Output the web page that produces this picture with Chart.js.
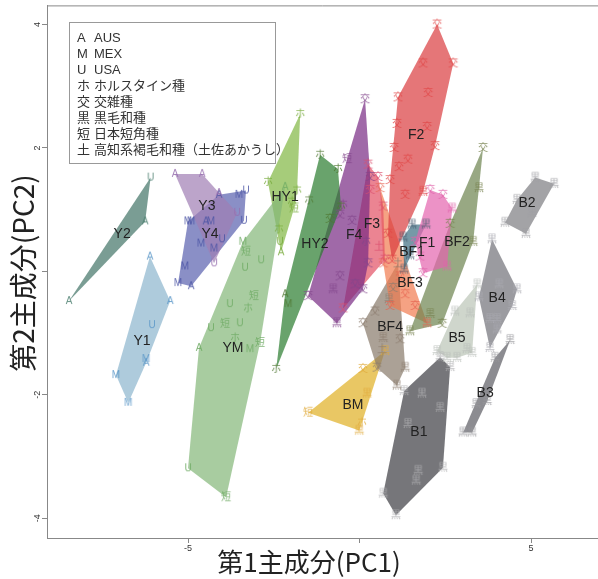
<!DOCTYPE html>
<html><head><meta charset="utf-8">
<script src="https://cdn.jsdelivr.net/npm/chart.js@4/dist/chart.umd.min.js"></script>
<style>html,body{margin:0;padding:0;background:#fff;overflow:hidden}</style>
</head><body>
<canvas id="c" width="598" height="579"></canvas>
<script>
// ---- axis ticks ----
const xTicks = [-5, 0, 5];
const yTicks = [-4, -2, 0, 2, 4];

// ---- groups: [PC1, PC2, symbol] ----
const Y2 = [[-8.47,-0.48,'A'],[-6.09,1.52,'U'],[-6.25,0.81,'A']];
const Y1 = [[-6.11,0.24,'A'],[-5.52,-0.48,'A'],[-6.05,-0.87,'U'],[-6.22,-1.42,'M'],[-6.22,-1.48,'A'],[-7.10,-1.68,'M'],[-6.74,-2.13,'M']];
const Y3 = [[-5.38,1.58,'A'],[-4.59,1.58,'A'],[-4.10,1.27,'A'],[-3.57,0.95,'U'],[-4.24,0.13,'U']];
const Y4 = [[-5.00,0.81,'M'],[-4.91,0.81,'M'],[-4.48,0.81,'A'],[-4.33,0.81,'M'],[-4.62,0.45,'M'],[-4.24,0.37,'M'],[-4.01,0.52,'U'],[-5.09,0.08,'M'],[-5.29,-0.19,'M'],[-4.91,-0.24,'A'],[-3.51,1.24,'M'],[-3.31,1.31,'U'],[-3.37,0.82,'U'],[-4.10,1.24,'A']];
const YM = [[-2.17,1.37,'A'],[-3.40,0.48,'M'],[-3.31,0.32,'短'],[-2.87,0.18,'U'],[-3.34,0.06,'U'],[-3.08,-0.40,'短'],[-3.25,-0.60,'ホ'],[-3.78,-0.53,'U'],[-4.33,-0.92,'U'],[-3.92,-0.85,'短'],[-3.49,-0.84,'U'],[-3.63,-1.08,'ホ'],[-2.90,-1.16,'短'],[-3.19,-1.26,'M'],[-4.68,-1.24,'A'],[-5.00,-3.19,'U'],[-3.89,-3.66,'短']];
const HY1 = [[-1.73,2.55,'ホ'],[-2.67,1.45,'ホ'],[-1.82,1.31,'ホ'],[-1.97,1.13,'ホ'],[-1.91,1.02,'短'],[-2.35,0.68,'ホ'],[-2.32,0.48,'U'],[-2.29,0.31,'A']];
const HY2 = [[-1.15,1.89,'ホ'],[-0.63,1.66,'ホ'],[-1.47,1.15,'ホ'],[-0.54,1.05,'ホ'],[-0.86,0.85,'交'],[-2.17,-0.37,'A'],[-2.08,-0.53,'M'],[-2.43,-1.58,'ホ']];
const F4 = [[0.16,2.79,'交'],[-0.36,1.82,'短'],[-0.48,1.08,'ホ'],[-0.57,0.92,'交'],[-0.22,0.82,'交'],[0.19,0.48,'ホ'],[0.31,1.53,'交'],[0.25,0.13,'交'],[-0.57,-0.08,'交'],[-0.77,-0.29,'黒'],[-0.13,-0.21,'交'],[0.10,-0.29,'交'],[-0.66,-0.84,'黒'],[-1.50,-0.40,'交']];
const F3 = [[0.25,1.73,'交'],[0.54,1.53,'交'],[0.31,1.32,'交'],[0.69,1.05,'交'],[0.57,0.40,'土'],[0.74,0.19,'交'],[-0.48,-0.60,'交']];
const F2 = [[2.26,4.00,'交'],[1.85,3.37,'交'],[2.73,3.37,'交'],[2.00,2.89,'交'],[1.12,2.82,'交'],[1.09,2.39,'交'],[1.97,2.34,'交'],[2.20,2.03,'交'],[1.01,2.00,'交'],[1.41,1.81,'交'],[1.15,1.69,'交'],[0.89,1.48,'交'],[1.33,1.24,'交'],[1.85,1.29,'黒'],[0.83,0.61,'交'],[0.95,0.19,'交']];
const F1 = [[2.06,1.32,'交'],[2.43,1.24,'交'],[2.70,1.02,'黒'],[2.55,0.08,'黒'],[1.85,-0.03,'交'],[1.62,0.48,'交'],[1.76,0.24,'交']];
const BF1 = [[1.53,0.76,'黒'],[1.94,0.76,'黒'],[1.27,0.55,'黒'],[1.47,0.26,'黒'],[1.30,0.03,'黒']];
const BF2 = [[3.60,2.00,'交'],[3.48,1.35,'黒'],[3.31,0.48,'黒'],[2.64,0.77,'交'],[2.41,-0.85,'交'],[2.06,-0.69,'黒'],[1.47,-0.97,'黒']];
const BF3 = [[0.60,1.35,'交'],[0.69,0.13,'交'],[0.89,-0.56,'交'],[1.18,-0.08,'交'],[1.33,-0.37,'交'],[1.62,-0.56,'交'],[1.97,-0.84,'黒']];
const BF4 = [[0.10,-0.84,'交'],[0.45,-0.65,'交'],[0.86,-0.45,'黒'],[0.69,-1.08,'黒'],[1.18,-1.10,'交'],[0.66,-1.26,'土'],[0.51,-1.56,'交'],[1.33,-1.56,'黒'],[1.09,-1.85,'黒'],[1.12,0.13,'土'],[0.98,-0.27,'交']];
const B5 = [[3.43,-0.21,'黒'],[2.78,-0.65,'黒'],[3.22,-0.68,'黒'],[2.26,-1.29,'黒'],[3.13,-1.26,'黒'],[2.55,-1.40,'黒'],[2.84,-1.40,'黒'],[3.28,-1.32,'黒']];
const B4 = [[3.86,0.52,'黒'],[4.59,-0.29,'黒'],[3.80,-1.24,'黒'],[3.48,-0.42,'黒'],[4.07,-0.21,'黒'],[4.45,-0.56,'黒'],[3.80,-0.77,'黒'],[4.01,-0.77,'黒'],[4.01,-0.94,'黒']];
const B2 = [[5.12,1.52,'黒'],[5.67,1.42,'黒'],[4.85,0.61,'黒'],[4.24,0.79,'黒'],[4.59,1.16,'黒'],[5.03,0.95,'黒']];
const B3 = [[4.39,-1.11,'黒'],[3.95,-1.40,'黒'],[3.40,-2.15,'黒'],[3.72,-2.10,'黒'],[3.02,-2.61,'黒'],[3.28,-2.61,'黒']];
const B1 = [[2.35,-1.39,'黒'],[2.64,-1.55,'黒'],[1.30,-1.94,'黒'],[1.82,-1.98,'黒'],[2.35,-2.21,'黒'],[1.41,-2.47,'黒'],[2.43,-3.18,'黒'],[1.71,-3.23,'黒'],[1.65,-3.39,'黒'],[0.69,-3.60,'黒'],[1.06,-3.95,'黒']];
const BM = [[-1.50,-2.29,'短'],[0.10,-1.58,'交'],[0.74,-1.29,'黒'],[0.22,-1.98,'黒'],[0.07,-2.45,'ホ'],[-0.01,-2.58,'黒']];

const groupNames = ['Y2','Y1','Y3','Y4','YM','HY1','HY2','F4','F3','F2','F1','BF1','BF2','BF3','BF4','B5','B4','B2','B3','B1','BM'];
const groupData  = [Y2,Y1,Y3,Y4,YM,HY1,HY2,F4,F3,F2,F1,BF1,BF2,BF3,BF4,B5,B4,B2,B3,B1,BM];
// group label anchor (PC1, PC2)
const labelX = [-6.92,-6.34,-4.45,-4.36,-3.69,-2.17,-1.30,-0.16,0.36,1.65,1.97,1.53,2.84,1.47,0.89,2.84,4.01,4.88,3.66,1.73,-0.19];
const labelY = [0.60,-1.13,1.06,0.61,-1.24,1.21,0.44,0.58,0.76,2.21,0.45,0.32,0.48,-0.19,-0.90,-1.08,-0.44,1.10,-1.97,-2.61,-2.16];

const legendSymbols = ['A','M','U','ホ','交','黒','短','土'];
const legendTexts = ['AUS','MEX','USA','ホルスタイン種','交雑種','黒毛和種','日本短角種','高知系褐毛和種（土佐あかうし）'];

// ---- styles: [fill rgb, text rgb] ----
const styles = {
  Y2:['65,116,102','80,130,115'], Y1:['139,181,205','90,150,200'], Y3:['160,125,180','150,110,175'],
  Y4:['88,95,174','75,85,165'], YM:['131,182,119','110,170,100'], HY1:['128,182,65','120,170,60'],
  HY2:['42,124,45','80,120,50'], F4:['119,41,131','130,70,140'], F3:['226,80,100','220,80,110'],
  F2:['218,60,62','225,70,70'], F1:['228,100,174','225,100,170'], BF1:['60,110,130','70,90,110'],
  BF2:['108,131,78','120,130,80'], BF3:['241,122,78','230,100,80'], BF4:['136,121,105','140,125,110'],
  B5:['186,196,182','185,190,185'], B4:['112,112,119','170,170,178'], B2:['124,124,128','160,160,165'],
  B3:['91,91,98','150,150,155'], B1:['60,60,65','175,175,178'], BM:['224,175,34','225,170,60']
};
const FONT = '"Liberation Sans","Noto Sans CJK JP",sans-serif';
const CJK = '"Noto Sans CJK JP","Liberation Sans",sans-serif';

function convexHull(pts){
  const p = pts.slice().sort((a,b)=>a.x-b.x||a.y-b.y);
  const cr=(o,a,b)=>(a.x-o.x)*(b.y-o.y)-(a.y-o.y)*(b.x-o.x);
  const lo=[],up=[];
  for(const q of p){while(lo.length>=2&&cr(lo[lo.length-2],lo[lo.length-1],q)<=0)lo.pop();lo.push(q);}
  for(let i=p.length-1;i>=0;i--){const q=p[i];while(up.length>=2&&cr(up[up.length-2],up[up.length-1],q)<=0)up.pop();up.push(q);}
  up.pop();lo.pop();return lo.concat(up);
}
const glyphCache = {};
function glyph(ch,color){
  const k=ch+'|'+color; if(glyphCache[k]) return glyphCache[k];
  const c=document.createElement('canvas'); c.width=14; c.height=14;
  const g=c.getContext('2d'); g.font='10px '+FONT; g.fillStyle=color;
  g.textAlign='center'; g.textBaseline='middle'; g.fillText(ch,7,7.5);
  glyphCache[k]=c; return c;
}

const datasets=[];
groupNames.forEach((name,i)=>{
  const pts = groupData[i].map(p=>({x:p[0],y:p[1],s:p[2]}));
  const h = convexHull(pts);
  const st = styles[name];
  datasets.push({type:'line', data:h.concat([h[0]]), fill:'shape', backgroundColor:'rgba('+st[0]+',0.7)',
    borderWidth:0, borderColor:'rgba(0,0,0,0)', pointRadius:0, tension:0, order:100+i});
  const col='rgba('+st[1]+',0.85)';
  datasets.push({type:'scatter', data:pts, pointRadius:5, pointStyle:(ctx)=>glyph(ctx.raw? ctx.raw.s : 'A', col), order:0, clip:false});
});

const decor = {
  id:'decor',
  afterDatasetsDraw(chart){
    const {ctx, scales:{x,y}} = chart;
    ctx.save();
    ctx.font='14px '+FONT; ctx.fillStyle='#222'; ctx.textAlign='center'; ctx.textBaseline='middle';
    groupNames.forEach((n,i)=>ctx.fillText(n, x.getPixelForValue(labelX[i]), y.getPixelForValue(labelY[i])));
    ctx.restore();
  },
  afterDraw(chart){
    const {ctx, chartArea:a} = chart;
    ctx.save();
    ctx.strokeStyle='#888'; ctx.lineWidth=1;
    ctx.beginPath(); ctx.moveTo(a.left, a.top+0.5); ctx.lineTo(a.right, a.top+0.5); ctx.stroke();
    // legend box
    ctx.strokeStyle='#999';
    ctx.fillStyle='#fff'; ctx.fillRect(69.5,22.5,206,141); ctx.strokeRect(69.5,22.5,206,141);
    ctx.font='13px '+FONT; ctx.fillStyle='#333'; ctx.textBaseline='middle'; ctx.textAlign='left';
    legendSymbols.forEach((s,i)=>{ const yy=38+16*i; ctx.fillText(s,77,yy); ctx.fillText(legendTexts[i],94,yy); });
    // axis titles
    ctx.fillStyle='#222'; ctx.textAlign='center'; ctx.textBaseline='middle';
    ctx.font='26px '+CJK; ctx.fillText('第1主成分(PC1)', 309, 562);
    ctx.translate(23,273); ctx.rotate(-Math.PI/2); ctx.font='28px '+CJK; ctx.fillText('第2主成分(PC2)',0,0);
    ctx.restore();
  }
};

new Chart(document.getElementById('c'), {
  type:'scatter',
  data:{datasets},
  options:{
    responsive:false, animation:false, devicePixelRatio:1, events:[],
    layout:{autoPadding:false, padding:{top:3,left:0,right:0,bottom:0}},
    plugins:{legend:{display:false}, tooltip:{enabled:false}},
    scales:{
      x:{type:'linear', min:-9.11, max:6.95,
        afterBuildTicks:s=>{s.ticks=xTicks.map(v=>({value:v}));},
        afterFit:s=>{s.height=41;},
        grid:{drawOnChartArea:false, drawTicks:true, tickLength:5, tickColor:'#888', color:'#888'},
        border:{display:true, color:'#888', width:1},
        ticks:{font:{size:9,family:FONT}, color:'#333', padding:0, autoSkip:false, maxRotation:0, callback:v=>v===0?'':String(v)}},
      y:{type:'linear', min:-4.32, max:4.31,
        afterBuildTicks:s=>{s.ticks=yTicks.map(v=>({value:v}));},
        afterFit:s=>{s.width=47;},
        grid:{drawOnChartArea:false, drawTicks:true, tickLength:5, tickColor:'#888', color:'#888'},
        border:{display:true, color:'#888', width:1},
        ticks:{font:{size:9,family:FONT}, color:'#333', padding:0, autoSkip:false, minRotation:90, maxRotation:90, crossAlign:'center', callback:v=>v===0?'':String(v)}}
    }
  },
  plugins:[decor]
});
</script>
</body></html>
